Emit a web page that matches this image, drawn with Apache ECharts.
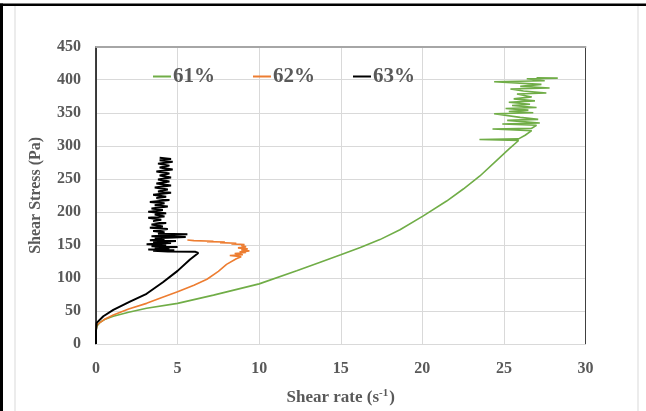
<!DOCTYPE html>
<html>
<head>
<meta charset="utf-8">
<script src="https://cdn.jsdelivr.net/npm/echarts@6/dist/echarts.min.js"></script>
<style>
html,body{margin:0;padding:0;background:#fff;}
#c{width:646px;height:411px;}
</style>
</head>
<body>
<div id="c"></div>
<script>
// ---- data (shear rate in s^-1, shear stress in Pa) ----
const seriesNames = ['61%', '62%', '63%'];
const xTicks = [0, 5, 10, 15, 20, 25, 30];
const yTicks = [0, 50, 100, 150, 200, 250, 300, 350, 400, 450];

const rate61 = [0, 0, 0, 0.05, 0.25, 0.6, 1.06, 2, 3.1, 5, 7.2, 10, 12.3, 13.7, 15.0, 16.2, 17.4, 18.63, 20.06, 21.49, 22.51, 23.53, 24.56, 25.3, 25.9,
  23.5, 25.9, 26.3, 26.7, 24.3, 26.7, 27.0, 24.9, 27.2, 25.2, 27.1, 26.0, 24.4, 26.8, 25.3, 26.5, 25.1, 27.0, 25.5, 26.6, 25.3, 26.9, 25.6, 26.7, 25.8, 27.6, 26.2, 25.4, 27.8, 26.0, 27.3, 24.4, 27.5, 26.4, 28.3, 27.0];
const stress61 = [0, 10, 20, 27, 33, 38, 42, 48, 54, 61.5, 74, 91, 111, 123.5, 135, 146, 158, 173, 194, 216.4, 234.6, 254.3, 278, 295, 308,
  309.5, 310.5, 316, 323, 325.5, 326.5, 331, 333, 334.5, 338.5, 340, 343, 348.5, 350, 352, 354, 356.5, 358, 361, 363, 366, 368, 371, 374, 378.5, 380, 383, 386, 387.5, 390, 393, 397, 398.5, 401.5, 402.5, 403];

const rate62 = [0, 0, 0, 0.05, 0.5, 1.06, 2, 3.1, 4, 5, 6, 6.8, 7.5, 8.0, 8.6, 8.9,
  8.2, 9.0, 8.5, 9.2, 8.8, 9.4, 8.9, 9.3, 8.7, 9.2, 8.9, 9.1, 8.3, 8.6, 7.6, 7.9, 6.8, 7.2, 6.0, 5.6];
const stress62 = [0, 10, 20, 29, 37, 44, 53, 61.5, 70, 79, 89, 98, 110, 120.5, 129, 132,
  134, 135, 137, 138.5, 139.5, 141, 142.5, 144, 145.5, 147, 149, 150.5, 151.5, 152.5, 153.5, 154.5, 155, 155.5, 156.5, 157.5];

const rate63 = [0, 0, 0, 0.04, 0.45, 1.06, 2.08, 3.1, 4.1, 5.0, 5.76, 6.27, 6.1, 4.4,
  3.5, 4.8, 3.2, 4.5, 3.6, 5.0, 3.4, 4.3, 3.1, 4.6, 3.5, 4.9, 3.3, 4.2, 3.6, 5.5, 3.4, 5.6, 3.8, 4.2, 3.5, 4.4, 3.3, 4.1, 3.4, 4.3, 3.5, 4.0, 3.2, 4.2, 3.6, 4.3, 3.2, 4.1, 3.4, 4.4, 3.6, 4.2, 3.3, 4.5, 3.7, 4.3, 3.5, 4.6, 3.8, 4.4, 3.6, 4.6, 3.7, 4.5, 3.8, 4.6, 3.9, 4.5, 3.7, 4.7, 3.9, 4.5, 3.8, 4.7, 3.9, 4.6, 3.9];
const stress63 = [0, 10, 20, 32, 42, 51.6, 64, 76, 93.5, 110.7, 128, 137.8, 139.5, 140,
  141, 142, 143, 144, 146, 147, 148, 150, 151, 153, 154, 156, 157, 159, 160, 162, 163, 166, 167, 169, 171, 174, 176, 178, 181, 183, 186, 188, 191, 193, 196, 198, 200, 203, 205, 208, 210, 213, 215, 218, 221, 223, 226, 229, 231, 234, 237, 240, 243, 246, 249, 252, 255, 258, 261, 264, 267, 270, 273, 276, 278, 280, 282];

const colors = ['#70AD47', '#ED7D31', '#000000'];

function pairs(xs, ys) { return xs.map((x, i) => [x, ys[i]]); }

const FONT = '"Liberation Serif", "Times New Roman", serif';
const TXT = '#595959';

const chart = echarts.init(document.getElementById('c'), null, {renderer: 'canvas'});
chart.setOption({
  animation: false,
  backgroundColor: '#ffffff',
  graphic: [
    {type: 'rect', shape: {x: 15, y: 5, width: 623, height: 420}, style: {fill: 'none', stroke: '#d9d9d9', lineWidth: 1}, silent: true, z: -1},
    {type: 'rect', shape: {x: 0, y: 3.5, width: 646, height: 2.5}, style: {fill: '#000'}, silent: true},
    {type: 'rect', shape: {x: 0, y: 3.5, width: 3, height: 411}, style: {fill: '#000'}, silent: true}
  ],
  grid: {left: 96, right: 60.5, top: 46.7, bottom: 59.3, containLabel: false},
  legend: {
    data: seriesNames,
    left: 148, top: 61,
    icon: 'rect', itemWidth: 18, itemHeight: 2, itemGap: 38,
    textStyle: {fontFamily: FONT, fontWeight: 'bold', fontSize: 21, color: TXT, padding: [0, 0, 0, -3]}
  },
  xAxis: [{
    type: 'value', min: xTicks[0], max: xTicks[xTicks.length - 1], interval: 5,
    name: '{b|Shear rate (s}{sup|-1}{b|)}',
    nameLocation: 'middle', nameGap: 44,
    nameTextStyle: {
      rich: {
        b: {fontFamily: FONT, fontWeight: 'bold', fontSize: 17, color: TXT},
        sup: {fontFamily: FONT, fontWeight: 'bold', fontSize: 11, color: TXT, verticalAlign: 'top', padding: [0, 1, 8, 0]}
      }
    },
    axisLine: {show: true, onZero: false, lineStyle: {color: '#d9d9d9', width: 1}},
    axisTick: {show: false},
    axisLabel: {margin: 17, fontFamily: FONT, fontWeight: 'bold', fontSize: 16, color: TXT},
    splitLine: {show: true, lineStyle: {color: '#d9d9d9', width: 1}}
  }, {
    type: 'value', position: 'top', min: 0, max: 30,
    axisLine: {show: true, onZero: false, lineStyle: {color: '#a6a6a6', width: 2}},
    axisTick: {show: false}, axisLabel: {show: false}, splitLine: {show: false}
  }],
  yAxis: [{
    type: 'value', min: yTicks[0], max: yTicks[yTicks.length - 1], interval: 50,
    name: 'Shear Stress (Pa)',
    nameLocation: 'middle', nameGap: 52, nameRotate: 90,
    nameTextStyle: {fontFamily: FONT, fontWeight: 'bold', fontSize: 16, color: TXT},
    axisLine: {show: true, onZero: false, lineStyle: {color: '#000', width: 1.5}},
    axisTick: {show: false},
    axisLabel: {margin: 15, fontFamily: FONT, fontWeight: 'bold', fontSize: 16, color: TXT},
    splitLine: {show: true, lineStyle: {color: '#d9d9d9', width: 1}}
  }, {
    type: 'value', position: 'right', min: 0, max: 450,
    axisLine: {show: true, onZero: false, lineStyle: {color: '#404040', width: 1}},
    axisTick: {show: false}, axisLabel: {show: false}, splitLine: {show: false}
  }],
  series: [
    {name: seriesNames[0], type: 'line', data: pairs(rate61, stress61), showSymbol: false, symbol: 'none',
     lineStyle: {color: colors[0], width: 1.6}, itemStyle: {color: colors[0]}},
    {name: seriesNames[1], type: 'line', data: pairs(rate62, stress62), showSymbol: false, symbol: 'none',
     lineStyle: {color: colors[1], width: 1.6}, itemStyle: {color: colors[1]}},
    {name: seriesNames[2], type: 'line', data: pairs(rate63, stress63), showSymbol: false, symbol: 'none',
     lineStyle: {color: colors[2], width: 2}, itemStyle: {color: colors[2]}}
  ]
});
</script>
</body>
</html>
